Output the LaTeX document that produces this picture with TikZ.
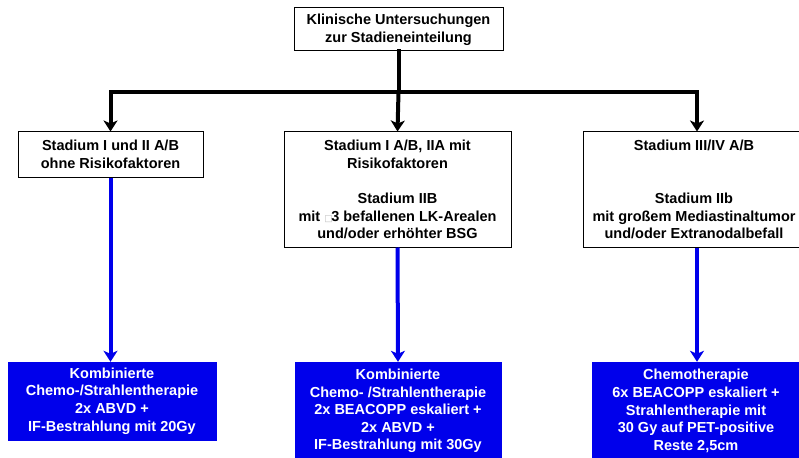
\documentclass[tikz,border=0pt]{standalone}
\usepackage{fontspec}
\setmainfont{Liberation Sans}
\newfontfamily\symfont{DejaVu Sans}
\usetikzlibrary{arrows.meta}
\definecolor{boxblue}{RGB}{0,0,235}
\tikzset{
  txt/.style={font=\fontsize{14.5}{17.6}\selectfont\bfseries, align=center},
  whitebox/.style={draw=black, line width=1pt, fill=white, inner sep=0pt, txt},
  bluebox/.style={draw=boxblue, fill=boxblue, text=white, inner sep=0pt, txt},
  blackarrow/.style={draw=black, line width=4pt, -{Stealth[length=11pt,width=14pt,inset=3pt]}},
  blackline/.style={draw=black, line width=4pt, line cap=rect},
  bluearrow/.style={draw=boxblue, line width=4pt, -{Stealth[length=11pt,width=14pt,inset=3pt]}}
}
\begin{document}
\begin{tikzpicture}[x=1pt,y=-1pt]
\useasboundingbox (0,0) rectangle (799,457);
\fill[white] (0,0) rectangle (799,457);
% top box
\node[whitebox, minimum width=209pt, minimum height=43pt] (top) at (398.5,29.5)
  {Klinische Untersuchungen\\zur Stadieneinteilung};
% stage boxes
\node[whitebox, minimum width=185pt, minimum height=45pt] (s1) at (110.5,154.5)
  {Stadium I und II A/B\\ohne Risikofaktoren};
\node[whitebox, minimum width=227pt, minimum height=115pt] (s2) at (397.5,189.5)
  {Stadium I A/B, IIA mit\\Risikofaktoren\\[17.6pt]Stadium IIB\\mit {\color{black!25}\symfont\fontsize{9}{9}\selectfont\raisebox{-0.5pt}{□}}\kern-1.5pt 3 befallenen LK-Arealen\\und/oder erhöhter BSG};
\node[whitebox, minimum width=222pt, minimum height=115pt] (s3) at (694,189.5)
  {Stadium III/IV A/B\\[35.2pt]Stadium IIb\\mit großem Mediastinaltumor\\und/oder Extranodalbefall};
% therapy boxes
\node[bluebox, minimum width=208pt, minimum height=78pt] (b1) at (112,401)
  {Kombinierte\\Chemo-/Strahlentherapie\\2x ABVD +\\IF-Bestrahlung mit 20Gy};
\node[bluebox, minimum width=206pt, minimum height=98pt] (b2) at (398,411)
  {Kombinierte\\Chemo- /Strahlentherapie\\2x BEACOPP eskaliert +\\2x ABVD +\\IF-Bestrahlung mit 30Gy};
\node[bluebox, minimum width=208pt, minimum height=98pt] (b3) at (696,411)
  {Chemotherapie\\6x BEACOPP eskaliert +\\Strahlentherapie mit\\30 Gy auf PET-positive\\Reste 2,5cm};
% connectors
\coordinate (j) at (398.5,92);
\coordinate (jl) at (110.5,92);
\coordinate (jr) at (697,92);
\draw[blackline] (top.south) -- (j);
\draw[blackline] (jl) -- (jr);
\draw[blackarrow] (j) -- (s2.north);
\draw[blackarrow] (jl) -- (s1.north);
\draw[blackarrow] (jr) -- (jr |- s3.north);
\draw[bluearrow] (s1.south) -- (s1.south |- b1.north);
\draw[bluearrow] (s2.south) -- (b2.north);
\draw[bluearrow] (jr |- s3.south) -- (jr |- b3.north);
\end{tikzpicture}
\end{document}
